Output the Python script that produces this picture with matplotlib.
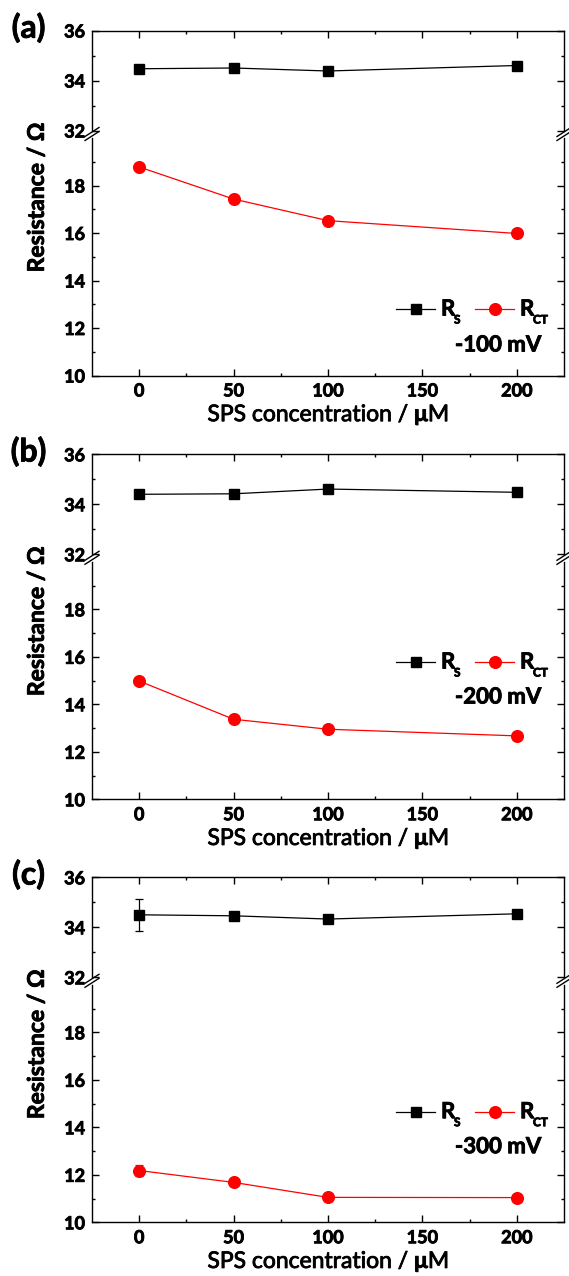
import numpy as np
import matplotlib
matplotlib.use("Agg")
import matplotlib.pyplot as plt
import matplotlib.patheffects as pe
from matplotlib import font_manager
from matplotlib.text import Text
from matplotlib.ticker import FixedLocator
from matplotlib.lines import Line2D


def pick_bold_family(candidates):
    # first family that really ships a bold face
    for fam in candidates:
        try:
            path = font_manager.findfont(
                font_manager.FontProperties(family=fam, weight="bold"),
                fallback_to_default=False)
        except ValueError:
            continue
        if "bold" in path.lower():
            return fam
    return "DejaVu Sans"


family = pick_bold_family(["Lato", "Open Sans", "Noto Sans", "Liberation Sans"])

plt.rcParams.update({
    "font.family": family,
    "font.weight": "bold",
    "mathtext.fontset": "custom",
    "mathtext.rm": f"{family}:bold",
    "mathtext.it": f"{family}:bold",
    "mathtext.bf": f"{family}:bold",
    "axes.linewidth": 1.0,
})

# SPS concentration (uM)
conc = [0, 50, 100, 200]

# -100 mV
rs_100      = [34.47, 34.50, 34.38, 34.60]
rs_100_err  = [0.15, 0.0, 0.0, 0.0]
rct_100     = [18.78, 17.43, 16.52, 15.98]
rct_100_err = [0.0, 0.0, 0.0, 0.0]

# -200 mV
rs_200      = [34.40, 34.42, 34.61, 34.48]
rs_200_err  = [0.15, 0.0, 0.0, 0.0]
rct_200     = [14.98, 13.37, 12.95, 12.67]
rct_200_err = [0.0, 0.0, 0.0, 0.0]

# -300 mV
rs_300      = [34.50, 34.46, 34.33, 34.54]
rs_300_err  = [0.63, 0.0, 0.0, 0.0]
rct_300     = [12.18, 11.68, 11.05, 11.04]
rct_300_err = [0.25, 0.0, 0.0, 0.0]

panel_tags  = ["(a)", "(b)", "(c)"]
bias_labels = ["-100 mV", "-200 mV", "-300 mV"]

# ------------------------------------------------------------
# geometry in pixels
# ------------------------------------------------------------
W, H = 569, 1276
ax_l, ax_r = 92, 564
panel_tops = [30.5, 454.3, 877.3]
hi_h   = 100.0     # 32-36 block
gap_h  = 7.5       # axis break
lo_h   = 237.5     # 10-20 block
leg_dy = [278.5, 207.7, 234.4]
mv_dy  = [314.5, 242.7, 269.4]

fs_tick  = 13
fs_label = 16.5
fs_leg   = 16
fs_sub   = 8.5
fs_tag   = 23


def fx(px):
    return px / W


def fy(py):
    return 1 - py / H


def px_box(left, top, right, bottom):
    return [fx(left), fy(bottom), (right - left) / W, (bottom - top) / H]


def style_ticks(ax):
    ax.tick_params(which="both", direction="in", width=1.0,
                   labelsize=fs_tick, pad=5)
    ax.tick_params(which="major", length=5)
    ax.tick_params(which="minor", length=2.5)


def draw_series(ax, rs, rs_err, rct, rct_err):
    ax.errorbar(conc, rs, yerr=rs_err, color="black", lw=0.9,
                marker="s", ms=7.4, capsize=3, elinewidth=0.9,
                capthick=0.9)
    ax.errorbar(conc, rct, yerr=rct_err, color="red", lw=0.9,
                marker="o", ms=8.4, capsize=3, elinewidth=0.9,
                capthick=0.9, ecolor="red")


def draw_key(x0, yc, color, marker, ms, main, sub):
    # handle line with marker in the middle, then R with subscript
    fig.add_artist(Line2D([fx(x0), fx(x0 + 39)], [fy(yc), fy(yc)],
                          transform=fig.transFigure, color=color, lw=0.9))
    fig.add_artist(Line2D([fx(x0 + 19.5)], [fy(yc)],
                          transform=fig.transFigure, color=color,
                          marker=marker, ms=ms, lw=0))
    fig.text(fx(x0 + 45), fy(yc), main, ha="left", va="center",
             fontsize=fs_leg)
    fig.text(fx(x0 + 58), fy(yc + 11), sub, ha="left", va="center",
             fontsize=fs_sub)


fig = plt.figure(figsize=(W / 100, H / 100), dpi=100)

data = [
    (rs_100, rs_100_err, rct_100, rct_100_err),
    (rs_200, rs_200_err, rct_200, rct_200_err),
    (rs_300, rs_300_err, rct_300, rct_300_err),
]

for i, t in enumerate(panel_tops):
    rs, rs_err, rct, rct_err = data[i]

    ax_hi = fig.add_axes(px_box(ax_l, t, ax_r, t + hi_h))
    ax_lo = fig.add_axes(px_box(ax_l, t + hi_h + gap_h, ax_r, t + hi_h + gap_h + lo_h))

    for ax in (ax_hi, ax_lo):
        draw_series(ax, rs, rs_err, rct, rct_err)
        ax.set_xlim(-25, 225)
        ax.xaxis.set_major_locator(FixedLocator([0, 50, 100, 150, 200]))
        ax.xaxis.set_minor_locator(FixedLocator([25, 75, 125, 175]))
        style_ticks(ax)

    ax_hi.set_ylim(32, 36)
    ax_hi.yaxis.set_major_locator(FixedLocator([32, 34, 36]))
    ax_hi.yaxis.set_minor_locator(FixedLocator([33, 35]))
    ax_hi.spines["bottom"].set_visible(False)
    ax_hi.tick_params(which="both", bottom=False, labelbottom=False,
                      top=True, right=True)

    ax_lo.set_ylim(10, 20)
    ax_lo.yaxis.set_major_locator(FixedLocator([10, 12, 14, 16, 18]))
    ax_lo.yaxis.set_minor_locator(FixedLocator([11, 13, 15, 17, 19]))
    ax_lo.spines["top"].set_visible(False)
    ax_lo.tick_params(which="both", top=False, right=True)
    ax_lo.tick_params(axis="x", pad=5)

    # break marks on both spines
    for xs in (ax_l, ax_r):
        for yc in (t + hi_h + 1.5, t + hi_h + 5.5):
            fig.add_artist(Line2D([fx(xs - 7), fx(xs + 7)],
                                  [fy(yc + 4.5), fy(yc - 4.5)],
                                  transform=fig.transFigure,
                                  color="black", lw=1.0))

    ax_lo.set_xlabel(r"SPS concentration / $\mathrm{\mu}$M",
                     fontsize=fs_label, labelpad=2)

    fig.text(fx(37), fy(t + 166.5), r"Resistance / $\Omega$",
             rotation=90, ha="center", va="center", fontsize=fs_label)
    fig.text(fx(28.5), fy(t - 3), panel_tags[i],
             ha="center", va="center", fontsize=fs_tag)

    yl = t + leg_dy[i]
    draw_key(396, yl, "black", "s", 7.4, "R", "S")
    draw_key(475, yl, "red", "o", 8.4, "R", "CT")
    fig.text(fx(498), fy(t + mv_dy[i]), bias_labels[i],
             ha="center", va="center", fontsize=fs_leg)

# slightly heavier strokes on all lettering
for txt in fig.findobj(Text):
    txt.set_path_effects([pe.withStroke(linewidth=0.6, foreground="black")])

fig.savefig("out.png", dpi=100)
